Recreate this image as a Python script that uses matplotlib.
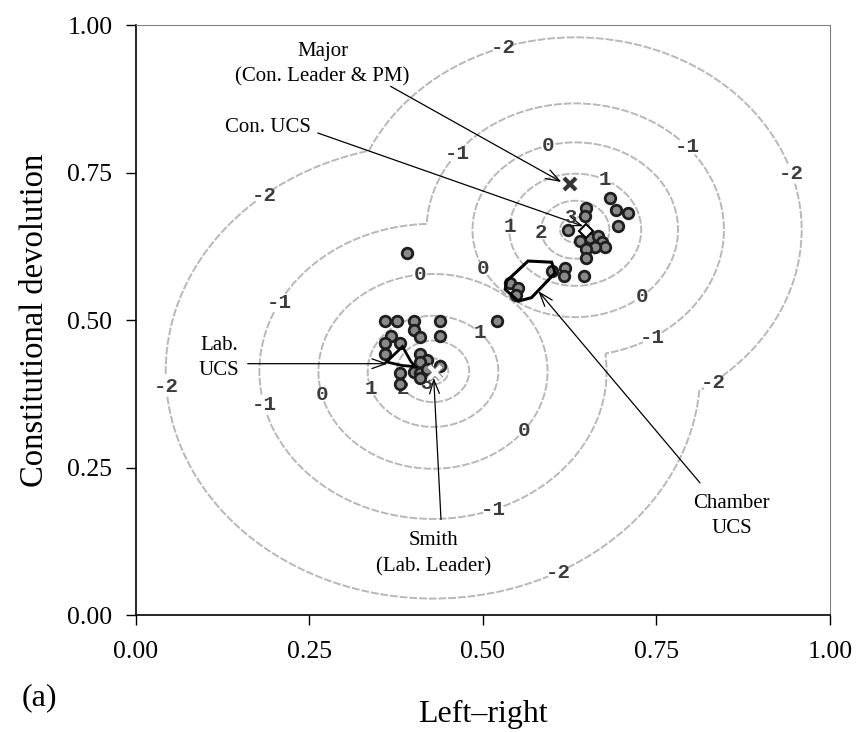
import numpy as np
import matplotlib.pyplot as plt
import matplotlib.patheffects as pe
from matplotlib.patches import Polygon

plt.rcParams['font.family'] = 'Liberation Serif'

# utility rings: distance from each party's ideal point where a level is reached
ring_levels = [3.6, 3, 2, 1, 0, -1, -2, -3]
con_centre = (0.633, 0.653)
con_radii = [0.0, 0.022, 0.049, 0.095, 0.148, 0.214, 0.326, 0.5]
lab_centre = (0.428, 0.413)
lab_radii = [0.0, 0.022, 0.052, 0.094, 0.165, 0.25, 0.385, 0.6]
contour_levels = [-2, -1, 0, 1, 2, 3]

# MP ideal points
con_x = [0.683, 0.691, 0.709, 0.694, 0.649, 0.647, 0.623, 0.640, 0.654, 0.666,
         0.671, 0.676, 0.661, 0.649, 0.649, 0.600, 0.618, 0.617, 0.646,
         0.539, 0.551, 0.548]
con_y = [0.707, 0.687, 0.682, 0.659, 0.690, 0.676, 0.652, 0.634, 0.639, 0.643,
         0.632, 0.623, 0.624, 0.620, 0.605, 0.583, 0.589, 0.574, 0.575,
         0.563, 0.555, 0.543]
lab_x = [0.390, 0.359, 0.376, 0.400, 0.401, 0.409, 0.438, 0.438, 0.368, 0.359,
         0.380, 0.359, 0.520, 0.409, 0.420, 0.409, 0.401, 0.380, 0.409, 0.420,
         0.380, 0.409, 0.438]
lab_y = [0.613, 0.499, 0.499, 0.499, 0.483, 0.472, 0.499, 0.473, 0.473, 0.461,
         0.461, 0.442, 0.499, 0.442, 0.432, 0.429, 0.412, 0.411, 0.411, 0.417,
         0.391, 0.402, 0.422]

# uncovered sets
chamber_ucs = [(0.565, 0.600), (0.599, 0.598), (0.604, 0.580), (0.570, 0.538),
               (0.551, 0.532), (0.532, 0.552), (0.534, 0.566)]
lab_ucs = [(0.361, 0.429), (0.384, 0.455), (0.396, 0.430), (0.402, 0.421),
           (0.383, 0.423)]
con_ucs = (0.649, 0.651)
major = (0.625, 0.730)
smith = (0.431, 0.411)

label_pos = [(0.530, 0.958), (0.947, 0.749), (0.796, 0.795), (0.451, 0.795),
             (0.594, 0.797), (0.724, 0.549), (0.676, 0.738), (0.536, 0.659),
             (0.582, 0.648), (0.625, 0.676), (0.4995, 0.5856), (0.408, 0.5856),
             (0.2065, 0.529), (0.043, 0.388), (0.187, 0.357), (0.269, 0.374),
             (0.329, 0.379), (0.379, 0.379), (0.418, 0.390), (0.504, 0.490),
             (0.557, 0.314), (0.514, 0.182), (0.606, 0.077), (0.827, 0.402),
             (0.741, 0.478), (0.1825, 0.7156)]

fig = plt.figure(figsize=(8.6, 7.32), dpi=100)
ax = fig.add_axes([0.1581, 0.1598, 0.807, 0.806])

g = np.linspace(0, 1, 600)
X, Y = np.meshgrid(g, g)
u_con = np.interp(np.hypot(X - con_centre[0], Y - con_centre[1]), con_radii, ring_levels)
u_lab = np.interp(np.hypot(X - lab_centre[0], Y - lab_centre[1]), lab_radii, ring_levels)
Z = np.maximum(u_con, u_lab)

cs = ax.contour(X, Y, Z, levels=contour_levels, colors='#b8b8b8',
                linewidths=1.4, linestyles=[(0, (4, 1))])
lbls = ax.clabel(cs, manual=label_pos, fmt='%d', fontsize=15,
                 inline_spacing=2, colors='#3c3c3c')
for t in lbls:
    t.set_rotation(0)
    t.set_fontfamily('Liberation Mono')
    t.set_fontweight('bold')

# points and sets
ax.scatter(con_x, con_y, s=58, c='#8a8a8a', edgecolors='#1e1e1e', linewidths=2, zorder=5)
ax.scatter(lab_x, lab_y, s=58, c='#8a8a8a', edgecolors='#1e1e1e', linewidths=2, zorder=5)
ax.add_patch(Polygon(chamber_ucs, closed=True, fill=False, ec='k', lw=2.2, zorder=6))
ax.add_patch(Polygon(lab_ucs, closed=True, fill=False, ec='k', lw=2.0, zorder=6))
ax.plot(*con_ucs, marker='D', ms=7, mfc='white', mec='k', mew=1.5, zorder=7)
ax.plot(*major, marker='x', ms=8, mec='#333333', mew=3, zorder=7)
ax.plot(*smith, marker='x', ms=9, mec='white', mew=3, zorder=7,
        path_effects=[pe.withStroke(linewidth=4.5, foreground='#808080')])

# annotations
arrow = dict(arrowstyle='->,head_length=1.0,head_width=0.35', lw=0.9, color='k',
             shrinkA=0, shrinkB=0)
tsize = 15
ax.text(0.269, 0.934, 'Major\n(Con. Leader & PM)', ha='center', va='center',
        fontsize=tsize, linespacing=1.45)
ax.annotate('', xy=(0.613, 0.734), xytext=(0.367, 0.896), arrowprops=arrow)
ax.text(0.19, 0.826, 'Con. UCS', ha='center', va='center', fontsize=tsize)
ax.annotate('', xy=(0.6446, 0.659), xytext=(0.262, 0.817), arrowprops=arrow)
ax.text(0.12, 0.436, 'Lab.\nUCS', ha='center', va='center', fontsize=tsize,
        linespacing=1.45)
ax.annotate('', xy=(0.3627, 0.426), xytext=(0.161, 0.426), arrowprops=arrow)
ax.text(0.429, 0.104, 'Smith\n(Lab. Leader)', ha='center', va='center',
        fontsize=tsize, linespacing=1.45)
ax.annotate('', xy=(0.429, 0.402), xytext=(0.4395, 0.162), arrowprops=arrow)
ax.text(0.858, 0.168, 'Chamber\nUCS', ha='center', va='center', fontsize=tsize,
        linespacing=1.45)
ax.annotate('', xy=(0.5797, 0.549), xytext=(0.8127, 0.224), arrowprops=arrow)

# axes
ax.set_xlim(0, 1)
ax.set_ylim(0, 1)
ticks = [0, 0.25, 0.5, 0.75, 1.0]
ax.set_xticks(ticks)
ax.set_yticks(ticks)
ax.set_xticklabels(['%.2f' % v for v in ticks])
ax.set_yticklabels(['%.2f' % v for v in ticks])
ax.tick_params(direction='out', length=7, width=1, labelsize=18.5)
ax.tick_params(axis='x', pad=12)
ax.tick_params(axis='y', pad=10)
for side in ['left', 'bottom']:
    ax.spines[side].set_linewidth(1.2)
    ax.spines[side].set_color('k')
for side in ['top', 'right']:
    ax.spines[side].set_linewidth(0.8)
    ax.spines[side].set_color('#808080')

ax.set_xlabel('Left\u2013right', fontsize=23, va='center')
ax.set_ylabel('Constitutional devolution', fontsize=23.5)
ax.xaxis.set_label_coords(0.5, (615 - 714) / 590)
ax.yaxis.set_label_coords(-0.124, 0.5)
fig.text(39 / 860, 1 - 698 / 732, '(a)', fontsize=23, ha='center', va='center')

fig.savefig('out.png', dpi=100)
